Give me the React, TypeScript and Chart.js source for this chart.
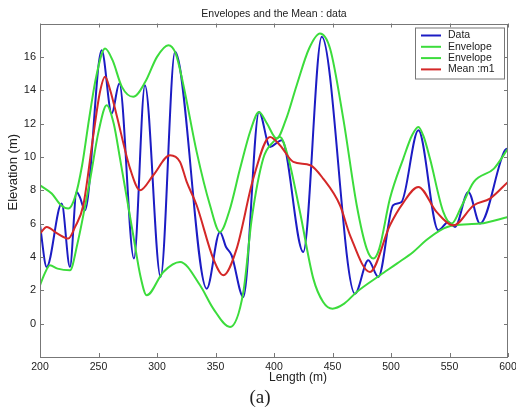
import React, { useEffect, useRef } from "react";
import { Chart, registerables } from "chart.js";

Chart.register(...registerables);

const TITLE = "Envelopes and the Mean : data";
const X_LABEL = "Length (m)";
const Y_LABEL = "Elevation (m)";
const CAPTION = "(a)";
const SERIES_LABELS = ["Data", "Envelope", "Envelope", "Mean :m1"];
const X_TICKS = [200, 250, 300, 350, 400, 450, 500, 550, 600];
const Y_TICKS = [0, 2, 4, 6, 8, 10, 12, 14, 16];

const dataX = [200, 205.7, 218.5, 225.6, 231.3, 234, 238.5, 252.7, 261.3, 267.8, 280.3, 289.7, 303.1, 315.4, 342.5, 353.8, 359, 363.8, 373.8, 387.2, 396.6, 406.6, 425, 440.8, 469.2, 480.6, 489.2, 501.8, 509, 523.4, 540.4, 549, 554.7, 566.1, 576.1, 597.4, 600];
const dataY = [5.9, 3.4, 7.2, 3.4, 7.9, 7.6, 6.8, 16.4, 12.6, 14.4, 3.9, 14.3, 2.8, 16.3, 2.1, 5.5, 4.6, 4.1, 1.6, 12.7, 10.6, 11.0, 4.3, 17.2, 1.8, 3.8, 2.8, 7.1, 7.3, 11.6, 5.6, 6.1, 5.8, 7.9, 6.0, 10.4, 10.5];

const upperX = [200, 210, 218, 224.2, 230, 236, 242, 248, 255.6, 262, 270, 279.7, 290, 300, 309.7, 316, 322, 333.9, 345.3, 353.8, 362, 371, 380, 387.2, 394, 402.3, 410, 419.4, 430, 439.3, 447.9, 459.2, 470.7, 479.2, 484.9, 490, 499.1, 510.5, 518, 523.4, 528, 533.3, 544.7, 551.8, 560, 570.8, 588, 600];
const upperY = [8.3, 7.8, 7.1, 6.9, 7.6, 9.5, 12.3, 14.8, 16.5, 15.8, 14.2, 13.6, 14.5, 16.0, 16.7, 16.2, 14.5, 10.3, 7.1, 5.5, 6.8, 9.3, 11.6, 12.7, 12.0, 11.1, 12.2, 14.3, 16.5, 17.4, 16.5, 12.3, 7.1, 4.5, 3.9, 4.5, 7.5, 9.9, 11.3, 11.8, 11.2, 9.9, 6.7, 6.0, 7.0, 8.5, 9.3, 10.5];

const lowerX = [200, 204, 208.5, 215, 225.6, 232, 242.7, 250, 257, 263, 268.4, 279.7, 286, 291.2, 305.4, 319.7, 336.8, 348.1, 362.4, 373.8, 381, 390.8, 399.4, 405.1, 412, 422.2, 433.6, 442, 450, 460, 470.7, 490.6, 505, 519, 530, 542, 553.4, 576, 600];
const lowerY = [2.3, 3.0, 3.5, 3.3, 3.2, 4.8, 8.6, 11.5, 13.1, 12.0, 9.9, 5.3, 2.8, 1.7, 3.1, 3.7, 2.3, 0.9, -0.2, 1.9, 6.3, 9.9, 10.9, 11.2, 10.0, 6.7, 2.7, 1.3, 0.9, 1.2, 1.9, 2.9, 3.6, 4.3, 5.0, 5.6, 5.9, 6.0, 6.4];

const meanX = [200, 205.7, 215, 224.2, 230, 237, 245.6, 251, 255.6, 260, 265.5, 277, 285.5, 296.8, 311.1, 319.7, 325.4, 333.9, 348.1, 356.7, 368.1, 382.3, 396.6, 405.1, 416.5, 431, 442, 456.4, 465, 482, 499.1, 510, 523.4, 538.9, 553.4, 570.8, 584.6, 600];
const meanY = [5.4, 5.8, 5.4, 5.1, 5.8, 7.1, 11.3, 13.8, 14.8, 14.0, 12.5, 9.3, 8.0, 8.9, 10.1, 9.7, 8.5, 7.1, 3.9, 2.9, 4.5, 8.7, 11.2, 10.7, 9.7, 9.5, 8.7, 7.1, 5.3, 3.1, 5.9, 7.2, 8.2, 6.7, 5.9, 7.1, 7.5, 8.5];

const FONT = '"Liberation Sans", Arial, sans-serif';
const TEXT = "#222";
const COLORS = ["#1c1cc4", "#3cdc3c", "#3cdc3c", "#d42828"];

function pts(xs: number[], ys: number[]) {
  return xs.map((x, i) => ({ x, y: ys[i] }));
}

const decorPlugin = {
  id: "decor",
  afterDraw(chart: any) {
    const ctx = chart.ctx as CanvasRenderingContext2D;
    const { left, right, top, bottom } = chart.chartArea;
    const xs = chart.scales.x;
    const ys = chart.scales.y;
    ctx.save();
    // frame
    ctx.strokeStyle = "#777";
    ctx.lineWidth = 1;
    ctx.strokeRect(Math.round(left) + 0.5, Math.round(top) + 0.5, Math.round(right - left) - 1, Math.round(bottom - top) - 1);
    // inward ticks
    ctx.beginPath();
    X_TICKS.forEach((v) => {
      const p = Math.round(xs.getPixelForValue(v)) + 0.5;
      ctx.moveTo(p, bottom);
      ctx.lineTo(p, bottom - 4);
      ctx.moveTo(p, top);
      ctx.lineTo(p, top + 4);
    });
    Y_TICKS.forEach((v) => {
      const p = Math.round(ys.getPixelForValue(v)) + 0.5;
      ctx.moveTo(left, p);
      ctx.lineTo(left + 4, p);
      ctx.moveTo(right, p);
      ctx.lineTo(right - 4, p);
    });
    ctx.stroke();

    // legend
    const bx = right - 93, by = top + 4, bw = 89, bh = 51;
    ctx.fillStyle = "#fff";
    ctx.fillRect(bx, by, bw, bh);
    ctx.strokeStyle = "#777";
    ctx.strokeRect(bx + 0.5, by + 0.5, bw, bh);
    ctx.font = `10.5px ${FONT}`;
    ctx.textBaseline = "middle";
    ctx.textAlign = "left";
    chart.data.datasets.forEach((ds: any, i: number) => {
      const y = by + 8 + i * 11.3;
      ctx.strokeStyle = ds.borderColor;
      ctx.lineWidth = 2;
      ctx.beginPath();
      ctx.moveTo(bx + 6, y);
      ctx.lineTo(bx + 26, y);
      ctx.stroke();
      ctx.fillStyle = TEXT;
      ctx.fillText(ds.label, bx + 33, y);
    });

    // axis labels and caption
    ctx.fillStyle = TEXT;
    ctx.textAlign = "center";
    ctx.font = `12px ${FONT}`;
    ctx.fillText(X_LABEL, (left + right) / 2 + 24, bottom + 21);
    ctx.save();
    ctx.translate(13, (top + bottom) / 2 - 18);
    ctx.rotate(-Math.PI / 2);
    ctx.font = `13px ${FONT}`;
    ctx.fillText(Y_LABEL, 0, 0);
    ctx.restore();
    ctx.font = `19px "Liberation Serif", "Times New Roman", serif`;
    ctx.fillText(CAPTION, 260, bottom + 41);
    ctx.restore();
  },
};

export default function App() {
  const ref = useRef<HTMLCanvasElement | null>(null);
  useEffect(() => {
    const canvas = ref.current;
    if (!canvas) return;
    const mk = (i: number, xs: number[], ysv: number[], order: number) => ({
      label: SERIES_LABELS[i],
      data: pts(xs, ysv),
      borderColor: COLORS[i],
      backgroundColor: COLORS[i],
      borderWidth: 2,
      pointRadius: 0,
      fill: false,
      cubicInterpolationMode: "monotone" as const,
      order,
    });
    const chart = new Chart(canvas, {
      type: "line",
      data: {
        datasets: [
          mk(0, dataX, dataY, 4),
          mk(1, upperX, upperY, 3),
          mk(2, lowerX, lowerY, 2),
          mk(3, meanX, meanY, 1),
        ],
      },
      options: {
        responsive: false,
        animation: false,
        layout: { padding: { left: 0, right: 8, top: 0, bottom: 0 } },
        plugins: {
          legend: { display: false },
          tooltip: { enabled: false },
          title: {
            display: true,
            text: TITLE,
            fullSize: false,
            color: TEXT,
            font: { family: FONT, size: 10.5, weight: "normal" },
            padding: { top: 7.5, bottom: 3.4 },
          },
        },
        scales: {
          x: {
            type: "linear",
            min: 200,
            max: 600,
            afterBuildTicks: (s: any) => {
              s.ticks = X_TICKS.map((v) => ({ value: v }));
            },
            afterFit: (s: any) => {
              s.height = 54;
              s.paddingLeft = 0;
              s.paddingRight = 0;
            },
            grid: { display: false, drawTicks: false },
            border: { display: false },
            ticks: {
              padding: 4,
              color: TEXT,
              maxRotation: 0,
              autoSkip: false,
              font: { family: FONT, size: 10.5 },
              callback: (v: any) => String(v),
            },
          },
          y: {
            type: "linear",
            min: -2,
            max: 18,
            afterBuildTicks: (s: any) => {
              s.ticks = Y_TICKS.map((v) => ({ value: v }));
            },
            afterFit: (s: any) => {
              s.width = 40;
              s.paddingTop = 0;
              s.paddingBottom = 0;
            },
            grid: { display: false, drawTicks: false },
            border: { display: false },
            ticks: {
              padding: 4,
              color: TEXT,
              autoSkip: false,
              font: { family: FONT, size: 11 },
              callback: (v: any) => String(v),
            },
          },
        },
      },
      plugins: [decorPlugin],
    } as any);
    return () => chart.destroy();
  }, []);
  return (
    <canvas
      ref={ref}
      width={516}
      height={411}
      style={{ position: "absolute", left: 0, top: 0, display: "block" }}
    />
  );
}
